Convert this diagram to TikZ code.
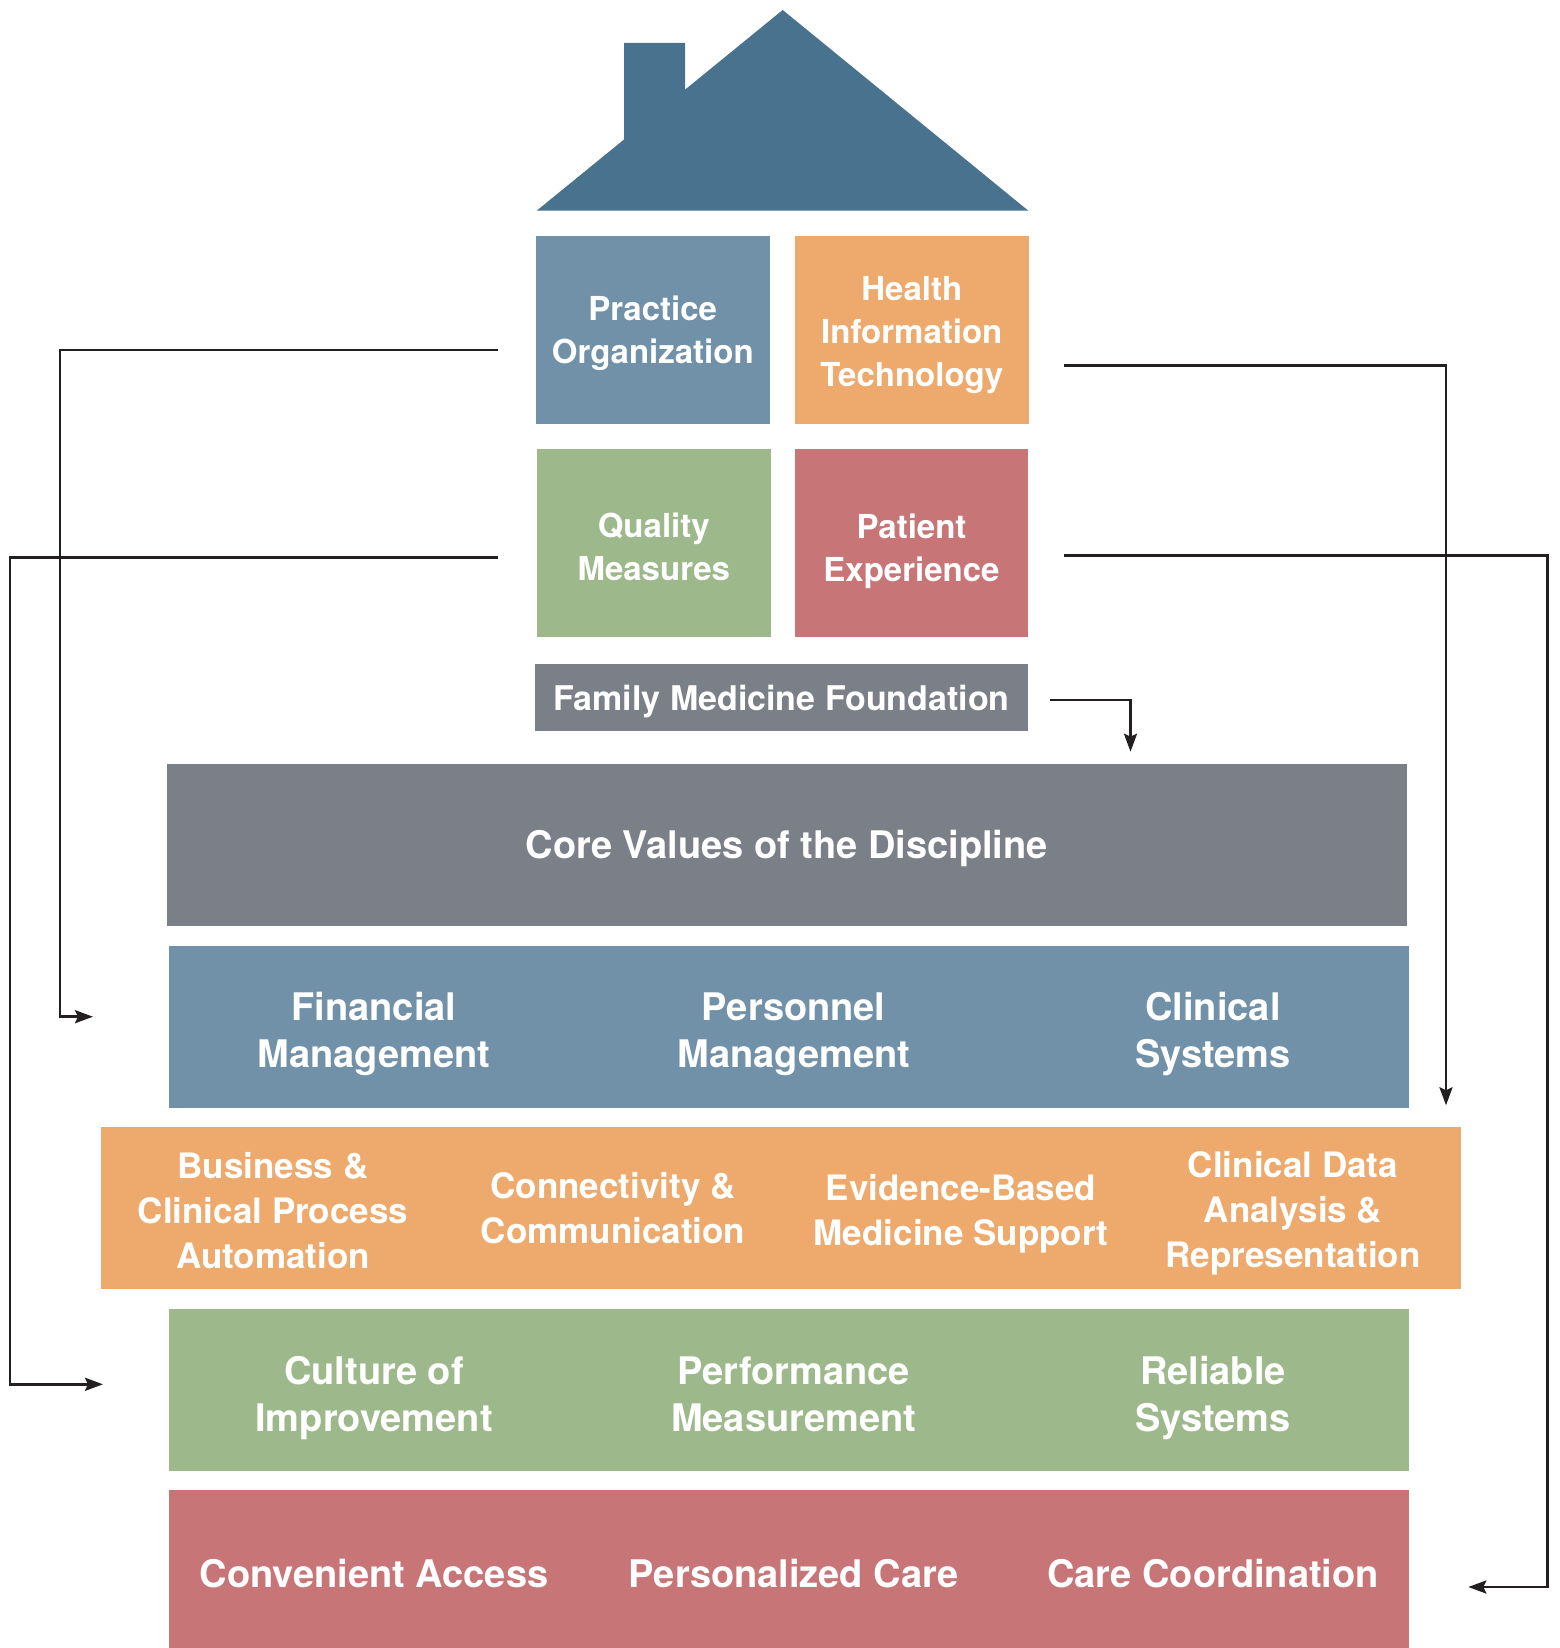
\documentclass[tikz,border=0pt]{standalone}
\usepackage{fontspec}
\setmainfont{TeX Gyre Heros}
\usetikzlibrary{arrows.meta,calc}
\definecolor{roofc}{HTML}{48728D}
\definecolor{bluec}{HTML}{7191A9}
\definecolor{orangec}{HTML}{EEAA6D}
\definecolor{greenc}{HTML}{9DB88A}
\definecolor{redc}{HTML}{C87577}
\definecolor{grayc}{HTML}{7B7F88}
\definecolor{linec}{HTML}{231F20}
\begin{document}
\begin{tikzpicture}[x=1pt,y=-1pt,
  blk/.style={draw=none, inner sep=0pt, anchor=north west},
  topfont/.style={font=\fontsize{33}{43}\selectfont\bfseries},
  bandfont/.style={font=\fontsize{38}{47}\selectfont\bfseries},
  orfont/.style={font=\fontsize{35}{45}\selectfont\bfseries},
  lbl/.style={text=white, align=center, inner sep=0pt},
  conn/.style={draw=linec, line width=2.7pt, -{Stealth[length=18pt,width=13pt,inset=3pt]}}]
\useasboundingbox (0,0) rectangle (1559,1648);
\fill[white] (0,0) rectangle (1559,1648);
% roof
\fill[roofc] (536.7,210.7) -- (624,139.5) -- (624,43) -- (685,43) -- (685,89.7) -- (782.7,10) -- (1028.3,210.7) -- cycle;
% top boxes
\node[blk, fill=bluec, minimum width=233.5pt, minimum height=188pt] (po) at (536,235.5) {};
\node[blk, fill=orangec, minimum width=233.5pt, minimum height=188pt] (hit) at (795,235.5) {};
\node[blk, fill=greenc, minimum width=233.5pt, minimum height=188pt] (qm) at (537,449) {};
\node[blk, fill=redc, minimum width=233pt, minimum height=188pt] (pe) at (795,449) {};
\node[blk, fill=grayc, minimum width=493pt, minimum height=66.6pt] (fmf) at (535,664) {};
\node[lbl, topfont] (poT) at (652.75,333.7) {Practice\\Organization};
\node[lbl, topfont] (hitT) at (911.75,334.8) {Health\\Information\\Technology};
\node[lbl, topfont] (qmT) at (653.75,547.2) {Quality\\Measures};
\node[lbl, topfont] (peT) at (911.5,551.4) {Patient\\Experience};
\node[lbl, font=\fontsize{34}{40}\selectfont\bfseries] (fmfT) at (781.5,701.5) {Family Medicine Foundation};
% bands
\node[blk, fill=grayc, minimum width=1239.5pt, minimum height=162pt] (core) at (167,764) {};
\node[blk, fill=bluec, minimum width=1239.6pt, minimum height=162pt] (fin) at (169,946) {};
\node[blk, fill=orangec, minimum width=1360pt, minimum height=162pt] (hitband) at (101,1127) {};
\node[blk, fill=greenc, minimum width=1239.6pt, minimum height=162pt] (qmband) at (169,1309) {};
\node[blk, fill=redc, minimum width=1239.6pt, minimum height=158pt] (peband) at (169,1490) {};
% band labels
\node[lbl, bandfont] (coreT) at (786.75,848.2) {Core Values of the Discipline};
\node[lbl, bandfont] (f1) at (374,1034.2) {Financial\\Management};
\node[lbl, bandfont] (f2) at (793.7,1034.2) {Personnel\\Management};
\node[lbl, bandfont] (f3) at (1213,1034.2) {Clinical\\Systems};
\node[lbl, orfont] (o1) at (273,1211) {Business \&\\Clinical Process\\Automation};
\node[lbl, orfont] (o2) at (613,1208) {Connectivity \&\\Communication};
\node[lbl, orfont] (o3) at (961,1214.2) {Evidence-Based\\Medicine Support};
\node[lbl, orfont] (o4) at (1293,1213.2) {Clinical Data\\Analysis \&\\Representation};
\node[lbl, bandfont] (g1) at (374,1398.2) {Culture of\\Improvement};
\node[lbl, bandfont] (g2) at (793.7,1394) {Performance\\Measurement};
\node[lbl, bandfont] (g3) at (1213,1398.2) {Reliable\\Systems};
\node[lbl, bandfont] (r1) at (374,1574) {Convenient Access};
\node[lbl, bandfont] (r2) at (793.7,1574) {Personalized Care};
\node[lbl, bandfont] (r3) at (1213,1574) {Care Coordination};
% connector end points
\coordinate (poOut) at (497.5,350);
\coordinate (finIn) at (93,1016.7);
\coordinate (qmOut) at (497.5,557.7);
\coordinate (qmIn) at (103,1384.3);
\coordinate (hitOut) at (1064,365.7);
\coordinate (hitIn) at (1446,1105.3);
\coordinate (peOut) at (1064,555.3);
\coordinate (peIn) at (1468.3,1587);
\coordinate (fmfOut) at (1050,700);
\coordinate (coreIn) at (1130.5,751.7);
% connectors
\draw[conn] (poOut) -- (60,350) |- (finIn);
\draw[conn] (qmOut) -- (10,557.7) |- (qmIn);
\draw[conn] (hitOut) -| (hitIn);
\draw[conn] (peOut) -- (1547.5,555.3) |- (peIn);
\draw[conn] (fmfOut) -| (coreIn);
\end{tikzpicture}
\end{document}
